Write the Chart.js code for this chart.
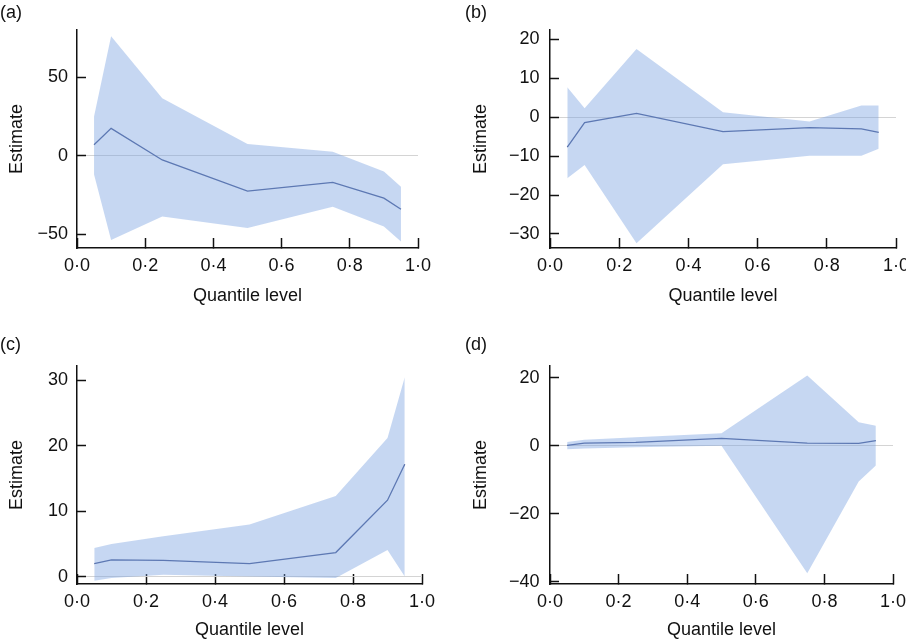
<!DOCTYPE html>
<html lang="en">
<head>
    <meta charset="UTF-8">
    <title>Quantile regression estimates</title>
    <script src="https://cdn.jsdelivr.net/npm/chart.js"></script>
    <style>
        html, body { margin: 0; padding: 0; background: #fff; }
        body { width: 906px; height: 641px; position: relative; overflow: hidden; }
        .panel { position: absolute; }
    </style>
</head>
<body>
    <div class="panel" style="left:0;top:0;width:453px;height:320px"><canvas id="chartA"></canvas></div>
    <div class="panel" style="left:453px;top:0;width:453px;height:320px"><canvas id="chartB"></canvas></div>
    <div class="panel" style="left:0;top:320px;width:453px;height:321px"><canvas id="chartC"></canvas></div>
    <div class="panel" style="left:453px;top:320px;width:453px;height:321px"><canvas id="chartD"></canvas></div>

    <script>
        // quantile levels used in every panel
        const quantiles = [0.05, 0.1, 0.25, 0.5, 0.75, 0.9, 0.95];
        const xTicks = [0, 0.2, 0.4, 0.6, 0.8, 1.0];
        const xTickLabels = ['0·0', '0·2', '0·4', '0·6', '0·8', '1·0'];

        // (a)
        const estA = [7, 17.4, -2.7, -22.5, -17, -27, -34];
        const upperA = [25, 76, 36.5, 7.5, 2.5, -10, -19.7];
        const lowerA = [-12, -53.6, -38.7, -46, -32.5, -45, -54.6];
        const yTicksA = [-50, 0, 50];

        // (b)
        const estB = [-7.7, -1.4, 1.0, -3.7, -2.7, -3, -3.9];
        const upperB = [7.7, 2.3, 17.5, 1.3, -1.1, 3, 3];
        const lowerB = [-15.7, -12.3, -32.4, -12.1, -9.9, -9.9, -8.1];
        const yTicksB = [-30, -20, -10, 0, 10, 20];

        // (c)
        const estC = [2.0, 2.6, 2.5, 2.0, 3.7, 11.7, 17.2];
        const upperC = [4.4, 5.0, 6.2, 8.0, 12.35, 21.2, 30.5];
        const lowerC = [-0.6, -0.2, 0.3, 0.05, -0.2, 4.1, 0.05];
        const yTicksC = [0, 10, 20, 30];

        // (d)
        const estD = [0.1, 0.8, 1.0, 2.2, 0.8, 0.7, 1.5];
        const upperD = [1.1, 1.8, 2.5, 3.7, 20.7, 6.9, 5.9];
        const lowerD = [-1.0, -0.8, -0.4, 0, -37.5, -10.5, -5.8];
        const yTicksD = [-40, -20, 0, 20];

        Chart.defaults.font.family = '"Liberation Sans", Arial, sans-serif';
        Chart.defaults.font.size = 18;
        Chart.defaults.color = '#111';

        const bandColor = 'rgba(120, 160, 225, 0.42)';
        const lineColor = '#4a5c93';

        function fmtY(v) {
            return v < 0 ? '\u2212' + Math.abs(v) : String(v);
        }

        function makePanel(id, letter, est, upper, lower, yTicks, yMin, yMax, box) {
            const pts = vals => quantiles.map((q, i) => ({ x: q, y: vals[i] }));
            return new Chart(document.getElementById(id), {
                type: 'line',
                data: {
                    datasets: [
                        { data: pts(lower), borderWidth: 0, borderColor: 'rgba(0,0,0,0)', pointRadius: 0, fill: false },
                        { data: pts(upper), borderWidth: 0, borderColor: 'rgba(0,0,0,0)', pointRadius: 0, fill: '-1', backgroundColor: bandColor },
                        { data: pts(est), borderWidth: 1.3, borderColor: lineColor, pointRadius: 0, fill: false }
                    ]
                },
                options: {
                    responsive: true,
                    maintainAspectRatio: false,
                    animation: false,
                    layout: { padding: { left: box.padLeft, right: box.padRight, top: 0, bottom: 0 } },
                    plugins: {
                        legend: { display: false },
                        tooltip: { enabled: false },
                        title: {
                            display: true,
                            text: letter,
                            align: 'start',
                            color: '#111',
                            font: { size: 18, weight: 'normal' },
                            padding: { top: box.titleTop, bottom: box.titleBottom }
                        }
                    },
                    scales: {
                        x: {
                            type: 'linear',
                            min: 0,
                            max: 1,
                            afterBuildTicks: s => { s.ticks = xTicks.map(v => ({ value: v })); },
                            afterFit: s => { s.height = box.xHeight; s.paddingLeft = 0; s.paddingRight = 0; },
                            border: { color: '#111', width: 1.5 },
                            grid: { drawOnChartArea: false, tickLength: -10, tickWidth: 1.5, tickColor: '#111' },
                            ticks: {
                                padding: 17,
                                maxRotation: 0,
                                autoSkip: false,
                                callback: v => xTickLabels[xTicks.indexOf(v)]
                            },
                            title: {
                                display: true,
                                text: 'Quantile level',
                                padding: { top: 0, bottom: box.xTitleBottom }
                            }
                        },
                        y: {
                            min: yMin,
                            max: yMax,
                            afterBuildTicks: s => { s.ticks = yTicks.map(v => ({ value: v })); },
                            afterFit: s => { s.width = box.yWidth; s.paddingTop = 0; s.paddingBottom = 0; },
                            border: { color: '#111', width: 1.5 },
                            grid: {
                                color: ctx => (ctx.tick && ctx.tick.value === 0) ? '#d4d4d4' : 'rgba(0,0,0,0)',
                                lineWidth: 1,
                                tickLength: -9,
                                tickWidth: 1.5,
                                tickColor: '#111'
                            },
                            ticks: { padding: box.yTickPad, autoSkip: false, callback: v => fmtY(v) },
                            title: {
                                display: true,
                                text: 'Estimate',
                                padding: { top: box.yTitlePad, bottom: 0 }
                            }
                        }
                    }
                }
            });
        }

        const topRow = { titleTop: 2, titleBottom: 6.4, xHeight: 72, xTitleBottom: 13 };
        const bottomRow = { titleTop: 14, titleBottom: 10.4, xHeight: 57, xTitleBottom: 0 };
        const leftCol = { padLeft: 0, yWidth: 77, yTickPad: 18, yTitlePad: 6 };
        const rightCol = { padLeft: 12, yWidth: 85, yTickPad: 19.5, yTitlePad: 5.5 };

        makePanel('chartA', '(a)', estA, upperA, lowerA, yTicksA, -58.7, 80,
            Object.assign({ padRight: 35 }, topRow, leftCol));
        makePanel('chartB', '(b)', estB, upperB, lowerB, yTicksB, -33.6, 22.4,
            Object.assign({ padRight: 10 }, topRow, rightCol));
        makePanel('chartC', '(c)', estC, upperC, lowerC, yTicksC, -1.1, 32.2,
            Object.assign({ padRight: 31 }, bottomRow, leftCol));
        makePanel('chartD', '(d)', estD, upperD, lowerD, yTicksD, -40.7, 23.5,
            Object.assign({ padRight: 13 }, bottomRow, rightCol));
    </script>
</body>
</html>
